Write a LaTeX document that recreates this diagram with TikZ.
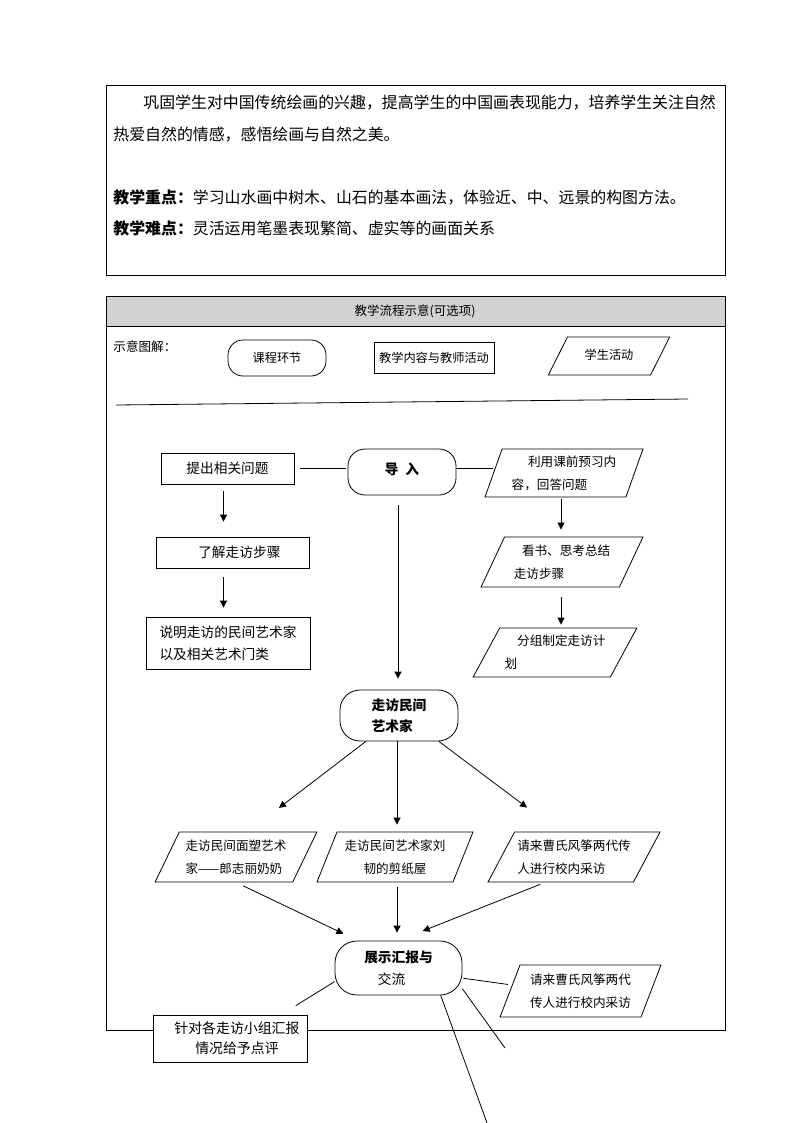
\documentclass[tikz,border=0pt]{standalone}
\usepackage{fontspec}
\setmainfont{Noto Sans CJK SC}
\usetikzlibrary{shapes.geometric,arrows.meta,calc}

\tikzset{
  txt/.style={font=\fontsize{15.9}{20}\selectfont, anchor=west, inner sep=0pt},
  base/.style={font=\fontsize{13.7}{22}\selectfont, inner sep=2pt, align=center},
  box/.style={base, draw, rectangle, fill=white},
  stage/.style={base, draw, rectangle, rounded corners=#1, fill=white},
  stage/.default=18pt,
  stu/.style={base, draw, trapezium, trapezium left angle=#1, trapezium right angle={180-#1},
    trapezium stretches=true, fill=white, font=\fontsize{12.6}{23}\selectfont, align=left},
  stu/.default=60,
  ln/.style={line width=0.8pt},
  arr/.style={ln, -{Triangle[length=7pt,width=7pt]}},
}

\begin{document}
\begin{tikzpicture}[x=1pt, y=-1pt, line width=0.8pt]
\useasboundingbox (0,0) rectangle (794,1123);

% objectives
\draw (106,85) rectangle (725,275);
\node[txt] (t1) at (143,103) {巩固学生对中国传统绘画的兴趣，提高学生的中国画表现能力，培养学生关注自然};
\node[txt] (t2) at (113,135) {热爱自然的情感，感悟绘画与自然之美。};
\node[txt] (t3) at (113,197) {\textbf{教学重点：}学习山水画中树木、山石的基本画法，体验近、中、远景的构图方法。};
\node[txt] (t4) at (113,228) {\textbf{教学难点：}灵活运用笔墨表现繁简、虚实等的画面关系};

% flow frame
\fill[gray!35] (106,296) rectangle (725,326);
\draw (106,296) rectangle (725,1030);
\draw (106,326) -- (725,326);
\node[font=\fontsize{12.5}{15}\selectfont] (head) at (415,311) {教学流程示意(可选项)};

% legend
\node[txt, font=\fontsize{12.6}{15}\selectfont] (leg) at (113,347) {示意图解：};
\node[stage=15pt, minimum width=98, minimum height=36, font=\fontsize{12.2}{15}\selectfont] (legstage) at (277,358) {课程环节};
\node[box, minimum width=120, minimum height=31, font=\fontsize{12.2}{15}\selectfont] (legbox) at (434,357.5) {教学内容与教师活动};
\node[stu=55, minimum width=122, minimum height=38, font=\fontsize{12.2}{15}\selectfont] (legstu) at (609,356) {\raisebox{3pt}{学生活动}};
\draw (116,405) -- (688,399);

% left column
\node[box, minimum width=133, minimum height=31] (tichu) at (227.5,468.5) {提出相关问题};
\node[box, minimum width=153, minimum height=31] (liaojie) at (232.5,552.5) {\hspace*{1em}了解走访步骤};
\node[box, minimum width=164, minimum height=52, align=left] (shuoming) at (228,643) {说明走访的民间艺术家\\以及相关艺术门类};

% middle column
\node[stage=17pt, minimum width=108, minimum height=46] (daoru) at (402,472) {\raisebox{6pt}{\bfseries 导\hspace{0.5em}入}};
\node[stage=20pt, minimum width=118, minimum height=51, font=\bfseries\fontsize{13.7}{21}\selectfont, align=left] (zoufang) at (399,715.5) {走访民间\\艺术家};

% right column
\node[stu=69, minimum width=158, minimum height=48] (p1) at (564,473) {\hspace*{1.3em}利用课前预习内\\容，回答问题};
\node[stu=62, minimum width=162, minimum height=50] (p2) at (562,562) {\hspace*{0.65em}看书、思考总结\\走访步骤};
\node[stu=57, minimum width=164, minimum height=49] (p3) at (555,652.5) {\hspace*{1em}分组制定走访计\\划};

% visits
\node[stu=60, minimum width=162, minimum height=50] (pl) at (236,857) {走访民间面塑艺术\\家——郎志丽奶奶};
\node[stu=65, minimum width=156, minimum height=50, align=center] (pm) at (395,857) {走访民间艺术家刘\\韧的剪纸屋};
\node[stu=56, minimum width=172, minimum height=50] (pr) at (574,857) {请来曹氏风筝两代传\\人进行校内采访};

% report
\node[stage=22pt, minimum width=127, minimum height=54, align=left] (zhanshi) at (398.5,968) {\textbf{展示汇报与}\\\hspace*{1em}交流};
\node[stu=66, minimum width=161, minimum height=52] (pb) at (580.5,991) {请来曹氏风筝两代\\传人进行校内采访};
\node[box, minimum width=154, minimum height=47, font=\fontsize{13.9}{20}\selectfont] (pingjia) at (230,1038.5) {\hspace*{1em}针对各走访小组汇报\\\hspace*{1em}情况给予点评};
\coordinate (f1) at (505,1048);
\coordinate (f2) at (487,1123);

% connectors
\draw[ln, shorten <=6pt, shorten >=2pt] (tichu.east) -- (tichu.east -| daoru.west);
\draw[ln] (daoru.east |- tichu.east) -- (tichu.east -| p1.west);
\draw[arr, shorten <=7pt, shorten >=15pt] ([xshift=-4pt]tichu.south) -- ([xshift=-4pt]tichu.south |- liaojie.north);
\draw[arr, shorten <=9pt, shorten >=9pt] ([xshift=-4pt]tichu.south |- liaojie.south) -- ([xshift=-4pt]tichu.south |- shuoming.north);
\draw[arr, shorten <=2pt, shorten >=7pt] ([xshift=-3pt]p1.south) -- ([xshift=-3pt]p1.south |- p2.north);
\draw[arr, shorten <=10pt, shorten >=3pt] ([xshift=-3pt]p1.south |- p2.south) -- ([xshift=-3pt]p1.south |- p3.north);
\draw[arr, shorten <=10pt, shorten >=11pt] ([xshift=-4pt]daoru.south) -- ([xshift=-4pt]daoru.south |- zoufang.north);
\draw[arr, shorten >=39pt] (zoufang.-142) -- ([xshift=12pt]pl.north);
\draw[arr, shorten >=7pt] ([xshift=-2pt]zoufang.south) -- ([xshift=-2pt]zoufang.south |- pm.north);
\draw[arr, shorten >=40pt] (zoufang.-33) -- ([xshift=-15pt]pr.north);
\draw[arr, shorten <=8pt, shorten >=16pt] (pl.south) -- (zhanshi.146);
\draw[arr, shorten <=5pt, shorten >=8pt] ([xshift=2pt]pm.south) -- ([xshift=2pt]pm.south |- zhanshi.north);
\draw[arr, shorten <=5pt, shorten >=26pt] ([xshift=-29pt]pr.south) -- (zhanshi.north);
\draw[ln, shorten <=1pt, shorten >=4pt] (zhanshi.-9) -- (pb.175);
\draw[ln, shorten >=17pt] (zhanshi.192) -- (pingjia.25);
\draw[ln] (zhanshi.-18) -- (f1);
\draw[ln] (zhanshi.-33) -- (f2);
\end{tikzpicture}
\end{document}
